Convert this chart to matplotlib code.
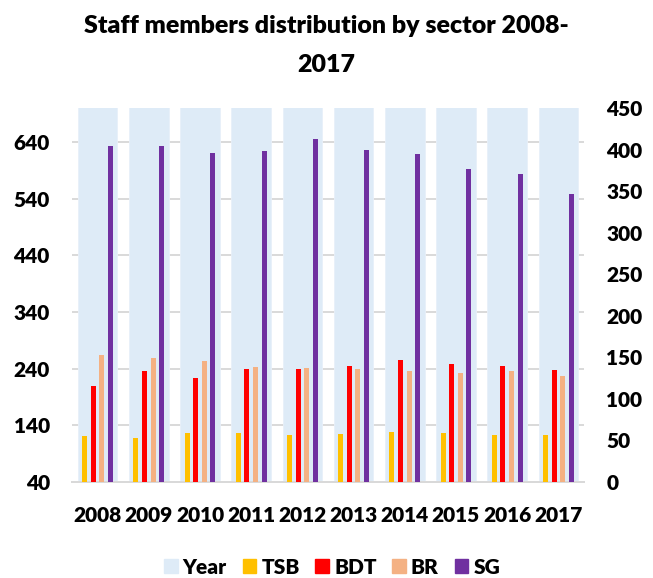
import matplotlib
matplotlib.use("Agg")
import matplotlib.pyplot as plt
import numpy as np
from matplotlib.patches import Patch

plt.rcParams['font.family'] = ['Lato', 'DejaVu Sans']
plt.rcParams['font.weight'] = 'heavy'

years = ['2008', '2009', '2010', '2011', '2012', '2013', '2014', '2015', '2016', '2017']
year_vals = [2008, 2009, 2010, 2011, 2012, 2013, 2014, 2015, 2016, 2017]
tsb = [55, 53, 59, 59, 57, 58, 60, 59, 56, 56]
bdt = [116, 133, 125, 136, 136, 140, 147, 142, 140, 135]
br = [153, 149, 146, 138, 137, 136, 133, 131, 134, 128]
sg = [404, 404, 396, 398, 413, 400, 395, 377, 371, 346]
series_names = ['TSB', 'BDT', 'BR', 'SG']
series_vals = [tsb, bdt, br, sg]
left_ticks = [40, 140, 240, 340, 440, 540, 640]
right_ticks = [0, 50, 100, 150, 200, 250, 300, 350, 400, 450]

c_year = '#DEEBF7'
colors = ['#FFC000', '#FF0000', '#F4B183', '#7030A0']
grid_c = '#D9D9D9'
W = 'heavy'

fig = plt.figure(figsize=(6.53, 5.78), dpi=100)
ax = fig.add_axes([72/653, 96/578, 512/653, 374/578])
ax2 = ax.twinx()

x = np.arange(len(years))
ax.bar(x, year_vals, width=0.77, color=c_year, edgecolor='#E8F0F9', linewidth=0.6, zorder=2)
ax.set_ylim(40, 700)
ax.set_xlim(-0.5, len(years) - 0.5)
ax.set_yticks(left_ticks)
ax.yaxis.grid(True, color=grid_c, linewidth=1.4, zorder=0)
ax.set_axisbelow(True)

w = 0.0975
step = 0.168
for i, (vals, col) in enumerate(zip(series_vals, colors)):
    ax2.bar(x + (i - 1.5) * step, vals, width=w, color=col, zorder=3)
ax2.set_ylim(0, 450)
ax2.set_yticks(right_ticks)

for a in (ax, ax2):
    for s in ['top', 'left', 'right']:
        a.spines[s].set_visible(False)
    a.spines['bottom'].set_color(grid_c)
    a.spines['bottom'].set_linewidth(1.4)
    a.tick_params(length=0)

ax.set_xticks(x)
ax.set_xticklabels(years, fontsize=15, fontweight=W)
ax.tick_params(axis='x', pad=17.5)
ax.set_yticklabels([str(t) for t in left_ticks], fontsize=15, fontweight=W)
ax2.set_yticklabels([str(t) for t in right_ticks], fontsize=15, fontweight=W)
ax.tick_params(axis='y', pad=16)
ax2.tick_params(axis='y', pad=16)

fig.text(0.5, 1 - 15/578, 'Staff members distribution by sector 2008-\n2017',
         ha='center', va='top', fontsize=18, fontweight=W, linespacing=1.95)

handles = [Patch(color=c_year, label='Year')] + [Patch(color=c, label=n) for c, n in zip(colors, series_names)]
fig.legend(handles=handles, loc='center', bbox_to_anchor=(332/653, 11/578), ncol=5,
           frameon=False, prop={'size': 15, 'weight': W}, handlelength=0.65, handleheight=0.65,
           handletextpad=0.25, columnspacing=0.75, borderaxespad=0, borderpad=0)

fig.savefig('out.png', dpi=100)
